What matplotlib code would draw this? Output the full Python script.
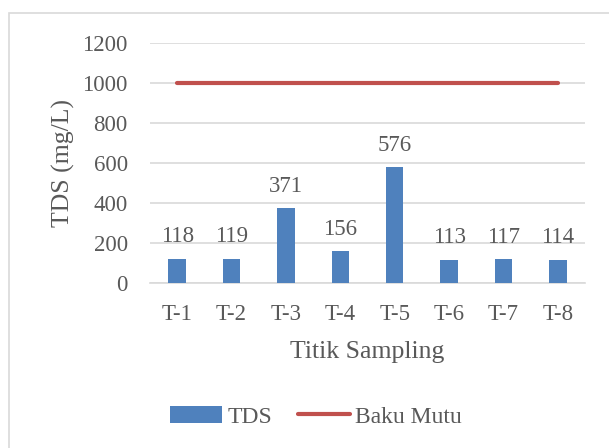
import matplotlib.pyplot as plt
from matplotlib.patches import Rectangle

# data
titik = ['T-1', 'T-2', 'T-3', 'T-4', 'T-5', 'T-6', 'T-7', 'T-8']
tds = [118, 119, 371, 156, 576, 113, 117, 114]
baku_mutu = [1000] * len(titik)

plt.rcParams['font.family'] = ['Liberation Serif', 'DejaVu Serif']
txt_color = '#595959'

fig = plt.figure(figsize=(6.09, 4.48), dpi=100)
ax = fig.add_axes([150 / 609, 1 - 282.7 / 448, 435 / 609, 240.2 / 448])

x = list(range(len(titik)))
bars = ax.bar(x, tds, width=0.32, color='#4F81BD', zorder=3, label='TDS')
line, = ax.plot(x, baku_mutu, color='#C0504D', lw=3, solid_capstyle='round',
                zorder=4, label='Baku Mutu')

# value labels
for xi, v in zip(x, tds):
    ax.annotate(str(v), (xi, v), xytext=(0, 12), textcoords='offset points',
                ha='center', va='baseline', fontsize=16.5, color=txt_color)

ax.set_xlim(-0.5, len(titik) - 0.5)
ax.set_ylim(0, 1200)
ax.set_yticks(range(0, 1201, 200))
ax.set_xticks(x)
ax.set_xticklabels(titik)
ax.tick_params(axis='both', length=0, labelsize=16.5, labelcolor=txt_color)
ax.tick_params(axis='y', pad=16)
ax.tick_params(axis='x', pad=15)
ax.grid(axis='y', color='#D9D9D9', lw=1.2, zorder=0)
for s in ['top', 'right', 'left']:
    ax.spines[s].set_visible(False)
ax.spines['bottom'].set_color('#D9D9D9')
ax.spines['bottom'].set_linewidth(1.2)

ax.set_ylabel('TDS (mg/L)', fontsize=18.5, color=txt_color, labelpad=5)
ax.set_xlabel('Titik Sampling', fontsize=18.5, color=txt_color, labelpad=12)

fig.legend(handles=[bars, line], loc='center', bbox_to_anchor=(0.519, 1 - 417 / 448),
           ncol=2, frameon=False, fontsize=17, labelcolor=txt_color,
           handlelength=2.2, handletextpad=0.25, columnspacing=1.06)

# chart border
fig.patches.append(Rectangle((8.5 / 609, -0.1), 2, 1 - 13.5 / 448 + 0.1,
                             transform=fig.transFigure, fill=False,
                             edgecolor='#D9D9D9', lw=1.2))

fig.savefig('out.png', dpi=100)
